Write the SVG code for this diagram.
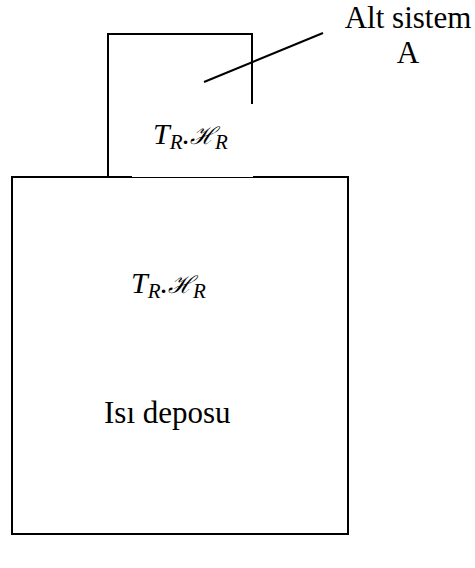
<svg xmlns="http://www.w3.org/2000/svg" width="475" height="568" viewBox="0 0 475 568">
<style>
.ln{fill:none;stroke:#000;stroke-width:2}
text{font-family:'Liberation Serif','Times New Roman','DejaVu Serif',serif;fill:#000}
.t{font-size:31px}
.m{font-size:30px;font-style:italic}
.s{font-size:21px}
.h{font-family:'DejaVu Serif',serif;font-size:24px}
</style>
<rect width="475" height="568" fill="#fff"/>
<g id="reservoir">
<rect class="ln" x="12" y="177" width="336" height="357"/>
<text class="m" x="131" y="293">T<tspan class="s" dy="5">R</tspan><tspan dy="-5">.</tspan><tspan class="h">ℋ</tspan><tspan class="s" dy="5">R</tspan></text>
<text class="t" x="104" y="423">Isı deposu</text>
</g>
<g id="subsystem">
<path class="ln" d="M108,177 V34 H252 V104"/>
<rect x="132" y="104" width="121" height="73" fill="#fff"/>
<text class="m" x="153" y="144">T<tspan class="s" dy="5">R</tspan><tspan dy="-5">.</tspan><tspan class="h">ℋ</tspan><tspan class="s" dy="5">R</tspan></text>
</g>
<g id="label">
<text class="t" x="408" y="28" text-anchor="middle">Alt sistem</text>
<text class="t" x="408" y="63" text-anchor="middle">A</text>
</g>
<g id="connectors">
<line class="ln" x1="204" y1="82" x2="323" y2="33"/>
</g>
</svg>
